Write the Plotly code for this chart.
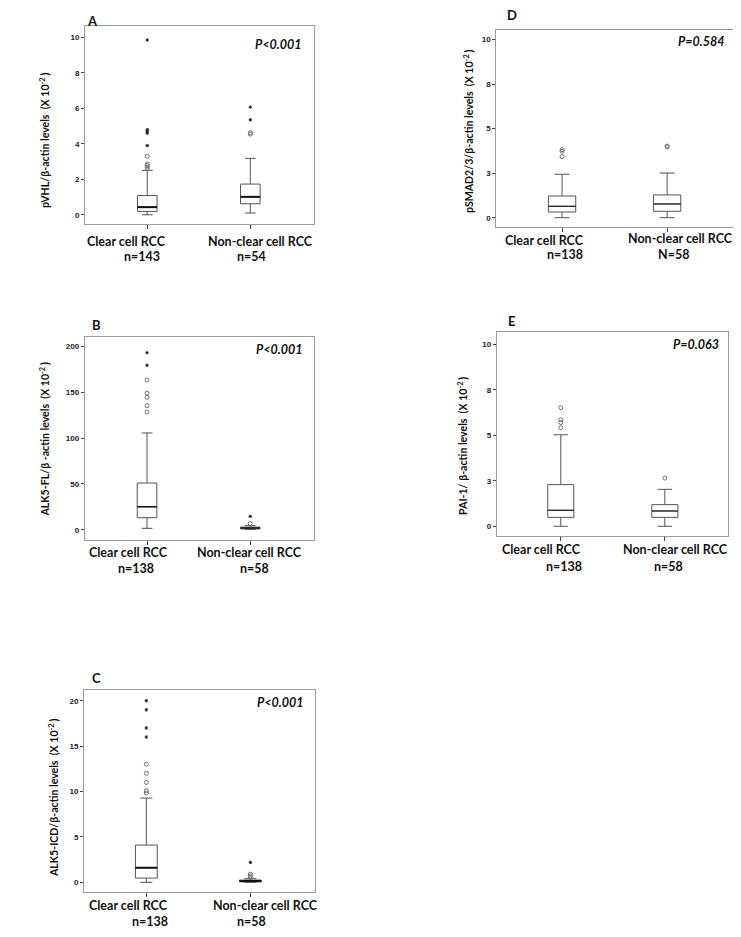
import plotly.graph_objects as go

W, H = 741, 937

CATEGORIES = ["Clear cell RCC", "Non-clear cell RCC"]

# ---------------- Panel A: pVHL ----------------
A_q1 = [0.19, 0.62]
A_med = [0.43, 1.01]
A_q3 = [1.09, 1.73]
A_lo = [0.0, 0.10]
A_hi = [2.50, 3.18]
A_circ_clear = [2.58, 2.68, 2.78, 2.86, 3.30]
A_star_clear = [3.90, 4.60, 4.70, 4.80, 9.85]
A_circ_non = [4.55, 4.63]
A_star_non = [5.35, 6.07]
A_n = ["n=143", "n=54"]
A_ticks = [0, 2, 4, 6, 8, 10]
A_ticktext = ["0", "2", "4", "6", "8", "10"]

# ---------------- Panel B: ALK5-FL ----------------
B_q1 = [13.1, 0.9]
B_med = [25.1, 1.8]
B_q3 = [50.9, 2.8]
B_lo = [1.5, 0.2]
B_hi = [105.5, 4.5]
B_circ_clear = [128.3, 135.3, 144.4, 149.0, 163.3]
B_star_clear = [179.3, 193.0]
B_circ_non = [6.8]
B_star_non = [14.5]
B_n = ["n=138", "n=58"]
B_ticks = [0, 50, 100, 150, 200]
B_ticktext = ["0", "50", "100", "150", "200"]

# ---------------- Panel C: ALK5-ICD ----------------
C_q1 = [0.47, 0.05]
C_med = [1.61, 0.15]
C_q3 = [4.10, 0.25]
C_lo = [0.0, 0.0]
C_hi = [9.28, 0.40]
C_circ_clear = [9.85, 10.1, 11.0, 12.0, 13.0]
C_star_clear = [16.0, 17.0, 19.0, 20.0]
C_circ_non = [0.55, 0.70, 0.90]
C_star_non = [2.2]
C_n = ["n=138", "n=58"]
C_ticks = [0, 5, 10, 15, 20]
C_ticktext = ["0", "5", "10", "15", "20"]

# ---------------- Panel D: pSMAD2/3 ----------------
D_q1 = [0.32, 0.36]
D_med = [0.64, 0.77]
D_q3 = [1.22, 1.28]
D_lo = [0.0, 0.0]
D_hi = [2.44, 2.51]
D_circ_clear = [3.43, 3.73, 3.82]
D_star_clear = []
D_circ_non = [3.98, 4.02]
D_star_non = []
D_n = ["n=138", "N=58"]
D_ticks = [0, 2.5, 5, 7.5, 10]
D_ticktext = ["0", "3", "5", "8", "10"]

# ---------------- Panel E: PAI-1 ----------------
E_q1 = [0.49, 0.49]
E_med = [0.88, 0.84]
E_q3 = [2.29, 1.19]
E_lo = [0.0, 0.0]
E_hi = [5.03, 2.03]
E_circ_clear = [5.42, 5.70, 5.85, 6.52]
E_star_clear = []
E_circ_non = [2.65]
E_star_non = []
E_n = ["n=138", "n=58"]
E_ticks = [0, 2.5, 5, 7.5, 10]
E_ticktext = ["0", "3", "5", "8", "10"]

panels = [
    dict(letter="A", q1=A_q1, med=A_med, q3=A_q3, lo=A_lo, hi=A_hi,
         cc=A_circ_clear, sc=A_star_clear, cn=A_circ_non, sn=A_star_non, n=A_n,
         ticks=A_ticks, ticktext=A_ticktext, p="P<0.001",
         title="pVHL/β-actin levels  (X 10<sup>-2 </sup>)",
         frame=(77, 306, 18, 216), yr=(-0.52, 10.64), xr=(-0.604, 1.618), bw=0.19, medw=2,
         letter_xy=(84, 13), p_xy=(296, 36), title_xy=(36, 133),
         lab=[(118, 233), (252.5, 233)], nlab=[(133.5, 248), (243.3, 248)]),
    dict(letter="B", q1=B_q1, med=B_med, q3=B_q3, lo=B_lo, hi=B_hi,
         cc=B_circ_clear, sc=B_star_clear, cn=B_circ_non, sn=B_star_non, n=B_n,
         ticks=B_ticks, ticktext=B_ticktext, p="P<0.001",
         title="ALK5-FL/β -actin levels  (X 10<sup>-2 </sup>)",
         frame=(76.7, 306, 329.3, 531.7), yr=(-10.9, 209.8), xr=(-0.604, 1.618), bw=0.19, medw=1.5,
         letter_xy=(88, 316.7), p_xy=(296.7, 341.7), title_xy=(36, 431.5),
         lab=[(121, 544.3), (241.7, 544.3)], nlab=[(128.3, 560.5), (246.7, 560.5)]),
    dict(letter="C", q1=C_q1, med=C_med, q3=C_q3, lo=C_lo, hi=C_hi,
         cc=C_circ_clear, sc=C_star_clear, cn=C_circ_non, sn=C_star_non, n=C_n,
         ticks=C_ticks, ticktext=C_ticktext, p="P<0.001",
         title="ALK5-ICD/β-actin levels  (X 10<sup>-2 </sup>)",
         frame=(76, 306.7, 682.3, 884.3), yr=(-1.1, 21.15), xr=(-0.599, 1.618), bw=0.21, medw=2,
         letter_xy=(88, 670), p_xy=(298, 694), title_xy=(45, 790),
         lab=[(121, 897.7), (257.5, 897.7)], nlab=[(141.7, 913), (243.7, 913)]),
    dict(letter="D", q1=D_q1, med=D_med, q3=D_q3, lo=D_lo, hi=D_hi,
         cc=D_circ_clear, sc=D_star_clear, cn=D_circ_non, sn=D_star_non, n=D_n,
         ticks=D_ticks, ticktext=D_ticktext, p="P=0.584",
         title="pSMAD2/3/β-actin levels  (X 10<sup>-2 </sup>)",
         frame=(488.3, 729.3, 21.7, 219.3), yr=(-0.54, 10.56), xr=(-0.626, 1.668), bw=0.26, medw=1,
         letter_xy=(504, 7), p_xy=(719.3, 33.3), title_xy=(461, 123),
         lab=[(536.7, 232.5), (672.8, 230.7)], nlab=[(557, 246.5), (665.5, 246.5)]),
    dict(letter="E", q1=E_q1, med=E_med, q3=E_q3, lo=E_lo, hi=E_hi,
         cc=E_circ_clear, sc=E_star_clear, cn=E_circ_non, sn=E_star_non, n=E_n,
         ticks=E_ticks, ticktext=E_ticktext, p="P=0.063",
         title="PAI-1/ β-actin levels  (X 10<sup>-2 </sup>)",
         frame=(488.7, 720, 324.3, 528.3), yr=(-0.55, 10.66), xr=(-0.616, 1.607), bw=0.25, medw=1,
         letter_xy=(503, 313), p_xy=(712.7, 336.7), title_xy=(454, 438),
         lab=[(533.3, 541), (667.8, 541)], nlab=[(556.3, 558), (660, 558)]),
]

fig = go.Figure()
layout = {}
annotations = []

LAB_FONT = dict(family="Lato", size=12.5, color="#111", weight="bold")
TICK_FONT = dict(family="Liberation Sans", size=8, color="#222", weight="bold")

def px(x):
    return x / W

def py(y):
    return 1 - y / H

for i, p in enumerate(panels):
    k = "" if i == 0 else str(i + 1)
    xa, ya = "x" + k, "y" + k
    x0, x1, y0, y1 = p["frame"]
    layout["xaxis" + k] = dict(
        domain=[px(x0), px(x1)], range=list(p["xr"]), anchor=ya,
        tickvals=[0, 1], showticklabels=False, ticks="outside", ticklen=4,
        tickcolor="#444", showline=True, linecolor="#9a9a9a", linewidth=1,
        mirror=True, showgrid=False, zeroline=False, fixedrange=True)
    layout["yaxis" + k] = dict(
        domain=[py(y1), py(y0)], range=list(p["yr"]), anchor=xa,
        tickvals=p["ticks"], ticktext=p["ticktext"], ticks="outside", ticklen=3,
        tickcolor="#444", tickfont=TICK_FONT, showline=True, linecolor="#9a9a9a",
        linewidth=1, mirror=True, showgrid=False, zeroline=False, fixedrange=True)

    fig.add_trace(go.Box(
        x=[0, 1], q1=p["q1"], median=p["med"], q3=p["q3"],
        lowerfence=p["lo"], upperfence=p["hi"], width=p["bw"],
        whiskerwidth=0.55, fillcolor="white",
        line=dict(color="#555", width=1), xaxis=xa, yaxis=ya,
        showlegend=False, hoverinfo="skip"))
    # medians drawn thicker on top
    for j in range(2):
        fig.add_trace(go.Scatter(
            x=[j - p["bw"] / 2, j + p["bw"] / 2], y=[p["med"][j], p["med"][j]],
            mode="lines", line=dict(color="#111", width=p["medw"]),
            xaxis=xa, yaxis=ya, showlegend=False, hoverinfo="skip"))
    # outliers
    for j, (circ, star) in enumerate([(p["cc"], p["sc"]), (p["cn"], p["sn"])]):
        if circ:
            fig.add_trace(go.Scatter(
                x=[j] * len(circ), y=circ, mode="markers",
                marker=dict(symbol="circle-open", size=4, color="#707070",
                            line=dict(width=1, color="#707070")),
                xaxis=xa, yaxis=ya, showlegend=False, hoverinfo="skip"))
        if star:
            fig.add_trace(go.Scatter(
                x=[j] * len(star), y=star, mode="markers",
                marker=dict(symbol="asterisk-open", size=2.8, color="#222",
                            line=dict(width=1, color="#222")),
                xaxis=xa, yaxis=ya, showlegend=False, hoverinfo="skip"))

    # texts
    lx, ly = p["letter_xy"]
    annotations.append(dict(text=p["letter"], x=px(lx), y=py(ly), xref="paper", yref="paper",
                            showarrow=False, xanchor="center", yanchor="middle",
                            font=dict(family="Lato", size=13, color="#111", weight="bold")))
    qx, qy = p["p_xy"]
    annotations.append(dict(text="<i>" + p["p"] + "</i>", x=px(qx), y=py(qy), xref="paper",
                            yref="paper", showarrow=False, xanchor="right", yanchor="middle",
                            font=dict(family="Lato", size=12.5, color="#111", weight="bold")))
    tx, ty = p["title_xy"]
    annotations.append(dict(text=p["title"], x=px(tx), y=py(ty), xref="paper", yref="paper",
                            showarrow=False, xanchor="center", yanchor="middle", textangle=-90,
                            font=dict(family="Lato", size=10.6, color="#111", weight="bold")))
    for j in range(2):
        cx, cy = p["lab"][j]
        annotations.append(dict(text=CATEGORIES[j], x=px(cx), y=py(cy), xref="paper",
                                yref="paper", showarrow=False, xanchor="center",
                                yanchor="middle", font=LAB_FONT))
        nx, ny = p["nlab"][j]
        annotations.append(dict(text=p["n"][j], x=px(nx), y=py(ny), xref="paper",
                                yref="paper", showarrow=False, xanchor="center",
                                yanchor="middle", font=LAB_FONT))

fig.update_layout(
    width=W, height=H, margin=dict(l=0, r=0, t=0, b=0),
    paper_bgcolor="white", plot_bgcolor="white",
    annotations=annotations, **layout)

fig.write_html("out.html")
